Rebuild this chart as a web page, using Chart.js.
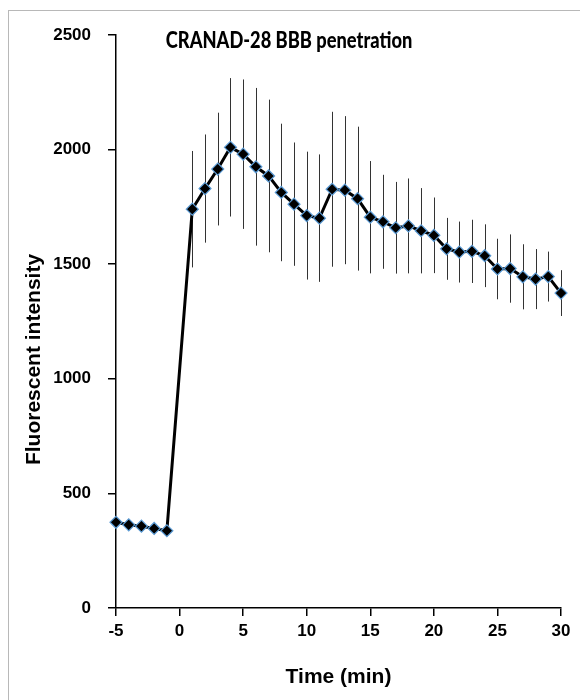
<!DOCTYPE html>
<html>
<head>
<meta charset="utf-8">
<script src="https://cdn.jsdelivr.net/npm/chart.js@4/dist/chart.umd.min.js"></script>
<style>
  html, body { margin: 0; padding: 0; background: #fff; }
  #frame { position: absolute; left: 8px; top: 10px; width: 572px; height: 690px;
           border-left: 1px solid #b8b8b8; border-top: 1px solid #b8b8b8; }
  #wrap { position: absolute; left: 0; top: 0; width: 580px; height: 700px; }
</style>
</head>
<body>
<div id="frame"></div>
<div id="wrap"><canvas id="c" width="580" height="700"></canvas></div>
<script>
const chartTitle = "CRANAD-28 BBB penetration";
const xAxisTitle = "Time (min)";
const yAxisTitle = "Fluorescent intensity";
const times = [-5, -4, -3, -2, -1, 1, 2, 3, 4, 5, 6, 7, 8, 9, 10, 11, 12, 13, 14, 15,
               16, 17, 18, 19, 20, 21, 22, 23, 24, 25, 26, 27, 28, 29, 30];
const intensity = [374, 363, 357, 347, 337, 1740, 1830, 1915, 2010, 1980, 1925, 1885, 1813, 1762, 1712,
                   1701, 1827, 1823, 1786, 1705, 1685, 1659, 1667, 1646, 1626, 1567, 1553, 1556, 1537, 1479,
                   1481, 1445, 1435, 1446, 1374];
const errors = [0, 0, 0, 0, 0, 254, 236, 246, 302, 326, 344, 333, 300, 269, 279,
                278, 338, 323, 314, 245, 205, 200, 207, 186, 165, 135, 133, 138, 137, 132,
                149, 142, 131, 109, 100];
const xTickValues = [-5, 0, 5, 10, 15, 20, 25, 30];
const yTickValues = [0, 500, 1000, 1500, 2000, 2500];

const points = times.map((t, i) => ({ x: t, y: intensity[i] }));

const tickFont = { family: '"Liberation Sans", Arial, sans-serif', size: 17, weight: 'bold' };
const axisTitleFont = { family: '"Liberation Sans", Arial, sans-serif', size: 21, weight: 'bold' };

const errorBarPlugin = {
  id: 'errorBars',
  beforeDatasetsDraw(chart) {
    const ctx = chart.ctx;
    const xs = chart.scales.x, ys = chart.scales.y;
    ctx.save();
    ctx.strokeStyle = '#333';
    ctx.lineWidth = 1;
    times.forEach((t, i) => {
      if (!errors[i]) return;
      const px = Math.round(xs.getPixelForValue(t)) + 0.5;
      ctx.beginPath();
      ctx.moveTo(px, ys.getPixelForValue(intensity[i] + errors[i]));
      ctx.lineTo(px, ys.getPixelForValue(intensity[i] - errors[i]));
      ctx.stroke();
    });
    ctx.restore();
  }
};

const textPlugin = {
  id: 'texts',
  afterDraw(chart) {
    const ctx = chart.ctx;
    const a = chart.chartArea;
    ctx.save();
    ctx.fillStyle = '#000';
    ctx.textAlign = 'center';
    ctx.textBaseline = 'middle';
    // chart title inside plot area
    ctx.save();
    ctx.font = '900 22px Lato, "Open Sans", sans-serif';
    ctx.translate(a.left + 173, a.top + 6);
    ctx.scale(0.83, 1);
    ctx.fillText(chartTitle, 0, 0);
    ctx.restore();
    // y axis title
    ctx.save();
    ctx.font = 'bold 21px "Liberation Sans", Arial, sans-serif';
    ctx.translate(a.left - 82, (a.top + a.bottom) / 2 + 38);
    ctx.rotate(-Math.PI / 2);
    ctx.fillText(yAxisTitle, 0, 0);
    ctx.restore();
    ctx.restore();
  }
};

new Chart(document.getElementById('c'), {
  type: 'line',
  data: {
    datasets: [{
      data: points,
      borderColor: '#000',
      borderWidth: 3,
      pointStyle: 'rectRot',
      pointRadius: 6,
      pointBackgroundColor: '#000',
      pointBorderColor: '#5b9bd5',
      pointBorderWidth: 1.2,
      tension: 0,
      clip: false
    }]
  },
  options: {
    responsive: false,
    animation: false,
    layout: { padding: { left: 36.2, right: 19, top: 35, bottom: 10.4 } },
    plugins: { legend: { display: false }, tooltip: { enabled: false } },
    scales: {
      x: {
        type: 'linear',
        min: -5, max: 30,
        afterBuildTicks: (s) => { s.ticks = xTickValues.map(v => ({ value: v })); },
        grid: { drawOnChartArea: false, drawTicks: true, tickLength: 8, color: '#000', lineWidth: 1.5 },
        border: { display: true, color: '#000', width: 1.5 },
        ticks: { color: '#000', padding: 5, font: tickFont, callback: (v) => String(v) },
        title: { display: true, text: xAxisTitle, color: '#000', padding: { top: 18, bottom: 0 }, font: axisTitleFont }
      },
      y: {
        min: 0, max: 2500,
        afterBuildTicks: (s) => { s.ticks = yTickValues.map(v => ({ value: v })); },
        grid: { drawOnChartArea: false, drawTicks: true, tickLength: 8, color: '#000', lineWidth: 1.5 },
        border: { display: true, color: '#000', width: 1.5 },
        ticks: { color: '#000', padding: 17, font: tickFont, callback: (v) => String(v) },
        title: { display: false }
      }
    }
  },
  plugins: [errorBarPlugin, textPlugin]
});
</script>
</body>
</html>
